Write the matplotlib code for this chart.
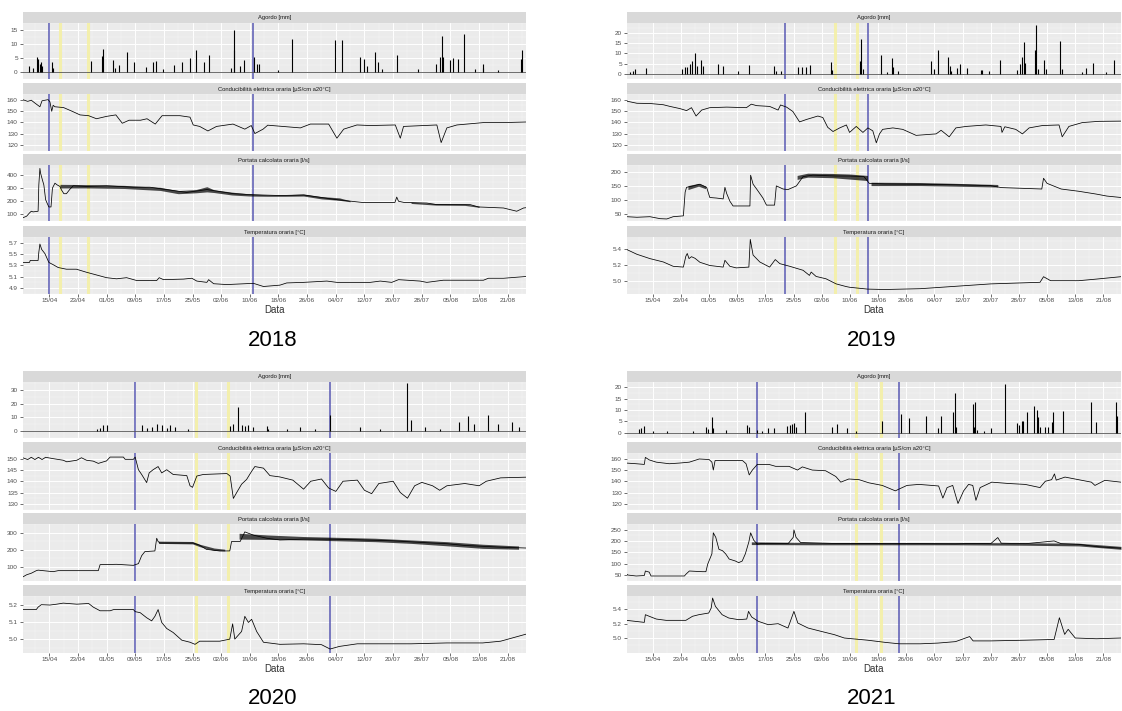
import numpy as np
import matplotlib
matplotlib.use('Agg')
import matplotlib.pyplot as plt

W, H = 1122, 711
plt.rcParams['font.family'] = ['Liberation Sans', 'DejaVu Sans']

# x axis: days counted from 1 April (0 = 01/04)
tick_days = [14, 22, 30, 38, 46, 54, 62, 70, 78, 86, 94, 102, 110, 118, 126, 134, 142]
tick_labels = ['15/04', '23/04', '01/05', '09/05', '17/05', '25/05', '02/06', '10/06', '18/06',
               '26/06', '04/07', '12/07', '20/07', '28/07', '05/08', '13/08', '21/08']
strip_labels = ['Agordo [mm]', 'Conducibilità elettrica oraria [µS/cm a20°C]',
                'Portata calcolata oraria [l/s]', 'Temperatura oraria [°C]']

# ---------------- 2018 ----------------
rain_2018 = [(8.3, 2.0), (9.5, 1.6), (10.6, 5.3), (11.0, 4.5), (11.3, 3.0), (11.6, 3.6), (11.9, 2.0),
             (14.7, 3.6), (15.1, 1.6), (25.8, 3.8), (28.6, 5.6), (29.1, 8.2), (31.9, 4.2), (32.4, 1.6),
             (33.5, 2.5), (35.6, 7.2), (37.8, 3.6), (41.0, 1.8), (43.1, 3.6), (43.8, 4.1), (45.9, 1.2),
             (48.8, 2.5), (51.1, 3.6), (53.4, 5.1), (55.1, 7.9), (57.3, 3.6), (58.5, 5.9), (64.8, 1.6),
             (65.5, 7.7), (65.7, 14.8), (67.3, 2.0), (68.5, 4.2), (71.2, 5.5), (71.9, 2.9), (72.6, 2.9),
             (78.0, 0.6), (81.7, 11.6), (93.8, 11.2), (95.8, 11.4), (100.8, 5.5), (101.9, 4.8),
             (102.7, 2.0), (105.0, 7.0), (105.9, 3.7), (107.0, 1.2), (111.0, 5.9), (116.9, 1.0),
             (121.9, 2.9), (123.1, 5.2), (123.7, 12.8), (123.9, 5.5), (125.9, 4.2), (126.8, 5.1),
             (128.0, 4.8), (129.8, 13.6), (132.9, 1.0), (135.0, 2.9), (135.2, 1.6), (139.4, 0.6),
             (145.6, 4.8), (145.9, 8.0)]
cond_2018 = [(6.6, 160), (8, 158.5), (9, 159.5), (10, 157), (11.4, 153.7), (12, 159), (13.7, 160),
             (14.2, 158), (14.7, 149.7), (15.1, 155), (15.6, 153.7), (18, 153), (20.4, 149.7),
             (22.6, 146.5), (25, 145.8), (27.2, 143.1), (30, 145.2), (32.6, 146.5), (34.4, 139.1),
             (36.3, 141.8), (39.5, 141.8), (41.3, 143.1), (43.6, 138.4), (45.5, 145.8), (50.5, 145.8),
             (53.3, 144.5), (54.2, 137.6), (56, 136.3), (58.3, 132.3), (60.7, 136.3), (65.3, 138.4),
             (68.6, 133.9), (70.4, 137.1), (71.4, 130), (73.7, 133.9), (75, 137.4), (84.1, 135),
             (86.9, 138.4), (92, 138.4), (94.3, 125.9), (96.2, 133.9), (99.9, 137.6), (103.6, 137.1),
             (110.6, 137.6), (112, 125.9), (112.9, 136.3), (122.2, 137.6), (123.4, 122), (125, 135),
             (127.8, 137.6), (135.2, 139.7), (140.8, 139.7), (147, 140.2)]
flow_2018 = [(6.6, 72), (7.7, 85), (8.5, 110), (9, 123), (9.5, 118), (10.9, 123), (11.1, 326),
             (11.4, 453), (11.6, 415), (12.1, 364), (12.5, 326), (13, 212), (13.4, 186), (13.9, 156),
             (14.5, 156), (14.9, 301), (15.6, 339), (16.2, 326), (17, 314), (17.4, 288), (18.1, 258),
             (18.8, 258), (19.8, 293), (20.7, 319), (24.4, 314), (30, 319), (37.5, 308), (42.1, 308),
             (45.9, 293), (52.4, 268), (58, 290), (65.5, 258), (71, 250), (78.4, 244), (85, 248),
             (94.3, 212), (101.3, 191), (110.5, 191), (111, 232), (111.5, 200), (113, 191),
             (119.4, 186), (122.2, 174), (131.5, 174), (133.8, 156), (140.8, 148), (144.5, 123),
             (146.4, 148), (147, 150)]
flow_band_2018 = [[(17, 302, 330), (25, 302, 328), (35, 298, 322), (45, 283, 307), (50, 258, 282),
                   (55, 265, 290), (58, 272, 312), (60, 267, 288), (65, 248, 270), (70, 240, 256),
                   (75, 238, 250), (80, 238, 250), (85, 240, 256), (90, 218, 236), (95, 207, 226),
                   (98, 196, 204)],
                  [(115, 183, 193), (122, 170, 182), (130, 168, 179), (134, 153, 163)]]
temp_2018 = [(6.6, 5.346), (8.5, 5.35), (8.7, 5.385), (10.9, 5.385), (11.1, 5.53), (11.4, 5.676),
             (11.9, 5.58), (12.8, 5.506), (13.9, 5.35), (15.1, 5.31), (16.5, 5.26), (18.8, 5.23),
             (21.6, 5.23), (24.4, 5.176), (27.2, 5.128), (30, 5.08), (32.8, 5.06), (35.6, 5.08),
             (38.4, 5.03), (44, 5.03), (44.7, 5.08), (45.9, 5.045), (51.5, 5.055), (53.8, 5.07),
             (55.2, 5.02), (58, 4.997), (58.5, 5.045), (59.9, 4.973), (63.6, 4.958), (71, 4.98),
             (73.8, 4.924), (78.4, 4.948), (80.3, 4.987), (85, 4.997), (91.5, 5.02), (94.3, 4.997),
             (103.6, 4.997), (106.4, 5.02), (109.6, 4.997), (111.5, 5.045), (117.5, 5.02),
             (119.4, 4.997), (124, 5.035), (135.2, 5.035), (136.6, 5.07), (140.8, 5.07), (147, 5.1)]
blue_2018 = [14.0, 70.8]
yellow_2018 = [17.0, 24.9]

# ---------------- 2019 ----------------
rain_2019 = [(7.4, 0.9), (8.5, 1.4), (8.9, 2.4), (12.1, 2.7), (22.2, 2.4), (23.2, 3.2), (23.6, 3.5),
             (24.6, 4.7), (25.2, 6.3), (26.0, 10.0), (26.5, 4.0), (27.7, 7.0), (28.3, 4.0), (32.6, 5.0),
             (34.0, 4.0), (38.3, 1.7), (41.3, 4.4), (48.4, 4.0), (49.1, 1.7), (50.5, 1.4), (55.2, 3.5),
             (56.4, 3.2), (57.6, 3.2), (58.6, 4.3), (64.7, 5.8), (65.0, 2.0), (73.0, 6.3), (73.2, 16.9),
             (73.7, 2.4), (78.9, 9.3), (80.5, 0.9), (82.0, 7.8), (82.3, 3.5), (83.6, 1.4), (93.0, 6.3),
             (94.0, 2.4), (94.9, 11.6), (98.0, 8.5), (98.3, 4.0), (98.8, 1.4), (100.3, 2.7),
             (101.3, 4.7), (103.4, 2.9), (107.2, 2.0), (107.6, 2.0), (109.6, 1.4), (112.6, 6.7),
             (117.6, 2.0), (118.3, 4.7), (118.8, 8.5), (119.4, 15.4), (119.7, 5.5), (122.6, 11.9),
             (122.9, 23.8), (123.5, 2.4), (125.1, 6.6), (125.6, 2.4), (129.6, 16.2), (130.2, 2.4),
             (135.8, 0.9), (137.0, 2.9), (139.1, 5.2), (142.6, 0.9), (145.0, 6.6)]
cond_2019 = [(6.6, 158.7), (9.5, 156.8), (13.2, 156.6), (17, 155.5), (18.9, 154), (21.7, 152.1),
             (23.6, 150.3), (25, 152.9), (26.3, 145.5), (27.9, 150.8), (30.2, 152.9), (35, 153.4),
             (40.6, 152.9), (42, 156), (43.5, 154.7), (47.2, 154), (49.6, 150.8), (50.3, 155.3),
             (52, 153.4), (53.8, 149.5), (55.7, 140.3), (57.6, 142.4), (60.9, 145.5), (62.3, 144.2),
             (63.7, 135.5), (65.2, 131.8), (67.1, 135), (69, 137.6), (69.9, 131), (71.8, 136.3),
             (73.7, 131), (75.1, 135), (76.5, 132.4), (77.5, 121.8), (78.4, 129.7), (79.3, 133.7),
             (82.2, 135), (85, 133.7), (88.8, 128.4), (94.5, 129.7), (95.9, 132.9), (98.2, 127.1),
             (100.1, 135), (103, 136.3), (108.6, 137.6), (112.9, 136.3), (113.2, 131), (114, 136),
             (117.1, 133.7), (119, 129.7), (120.9, 135), (124.7, 137.1), (129.4, 137.6),
             (130.3, 127.1), (132.2, 136.3), (136, 139.7), (140.7, 140.8), (147, 141)]
flow_2019 = [(6.6, 42), (9.5, 40), (13.2, 42), (16.1, 35), (18, 34), (19.8, 42), (22.7, 45),
             (23.2, 129), (23.6, 146), (25.5, 151), (27.4, 157), (29.3, 146), (30.2, 110), (32.1, 108),
             (34, 105), (34.5, 146), (35, 124), (35.9, 97), (36.8, 80), (41.6, 80), (41.8, 189),
             (42.5, 157), (43.5, 140), (45.3, 108), (46.3, 83), (48.6, 83), (49.1, 151), (51, 140),
             (52.4, 138), (54.8, 151), (56.7, 184), (59.5, 189), (66.1, 186), (69.9, 186), (74, 184),
             (75.5, 160), (80, 158), (90, 157), (100, 155), (110, 152), (113, 145), (120, 142),
             (124.5, 140), (125, 178), (126, 160), (130, 140), (135, 132), (140, 122), (143, 115),
             (147, 110)]
flow_band_2019 = [[(24, 138, 152), (27, 150, 160), (29, 141, 150)],
                  [(55, 174, 188), (58, 182, 196), (65, 180, 195), (70, 175, 193), (75, 170, 188)],
                  [(76, 152, 164), (90, 152, 163), (100, 150, 160), (112, 147, 156)]]
temp_2019 = [(6.6, 5.4), (9.5, 5.34), (13.2, 5.286), (17, 5.244), (19.8, 5.19), (22.7, 5.18),
             (23.4, 5.316), (23.8, 5.35), (24.3, 5.286), (25, 5.31), (26, 5.29), (27.4, 5.24),
             (30.2, 5.2), (34, 5.18), (34.5, 5.265), (35.9, 5.19), (37.7, 5.17), (41.3, 5.18),
             (41.7, 5.526), (42.5, 5.33), (44.4, 5.244), (47.2, 5.18), (48.8, 5.274), (50.1, 5.223),
             (52.9, 5.19), (56.7, 5.14), (58.5, 5.076), (59, 5.118), (60.4, 5.063), (63.2, 5.034),
             (66.1, 4.97), (68.9, 4.937), (69.9, 4.928), (75, 4.905), (80, 4.9), (90, 4.91),
             (100, 4.94), (110, 4.97), (124, 4.99), (125, 5.06), (127, 5.01), (135, 5.01),
             (140, 5.03), (147, 5.06)]
blue_2019 = [51.5, 75.1]
yellow_2019 = [65.8, 72.0]

# ---------------- 2020 ----------------
rain_2020 = [(27.2, 1.8), (28.2, 2.6), (29.1, 4.4), (30.0, 4.8), (39.8, 4.4), (41.2, 2.6), (42.6, 3.3),
             (44.0, 5.5), (45.4, 4.4), (46.8, 2.6), (47.7, 4.4), (49.1, 3.3), (52.8, 1.8), (64.5, 3.9),
             (65.4, 5.5), (66.8, 17.5), (67.7, 4.8), (68.7, 3.9), (69.6, 4.8), (71.0, 3.3), (74.7, 3.9),
             (75.1, 1.8), (80.4, 2.0), (84.0, 3.0), (88.2, 2.0), (92.4, 12.0), (100.8, 3.0),
             (106.3, 2.0), (113.9, 35.0), (115.0, 8.0), (119.0, 3.0), (123.0, 2.0), (128.4, 7.0),
             (130.9, 11.0), (132.6, 5.0), (136.5, 12.0), (139.3, 5.0), (143.2, 7.0), (145.1, 3.0)]
cond_2020 = [(6.6, 150.4), (8, 149.6), (9, 150.6), (10, 149.6), (11, 150.6), (12, 149.6), (13, 150.6),
             (15.1, 150), (17.9, 149.3), (18.9, 148.6), (21.7, 149.3), (23, 150.4), (24.4, 149.3),
             (26.3, 148.9), (27.7, 147.9), (30, 149), (31, 150.7), (34.7, 150.7), (35.2, 149.7),
             (37.5, 149.7), (38, 150.7), (38.9, 145.1), (39.8, 143), (41.2, 139.4), (41.9, 143.7),
             (43, 145.1), (44.4, 146.5), (45.4, 143.7), (46.8, 145.1), (48.6, 143), (52.4, 142.5),
             (53.3, 138), (54, 137.3), (55.2, 142.3), (57, 143), (63.6, 143.4), (64.5, 142.3),
             (65.4, 132.4), (66.4, 135.2), (67.7, 138.7), (69.1, 140.8), (70.5, 144.4), (71.4, 146.5),
             (73.8, 145.8), (75.6, 142.5), (78.4, 141.9), (82, 140.5), (85, 136.5), (87, 140),
             (90, 141), (92, 137), (94, 135.5), (96, 140), (100, 140.5), (102, 136), (104, 134.5),
             (106, 139), (110, 140), (112, 135), (114, 132.5), (116, 138), (118, 139.5), (121, 138),
             (123, 136), (125, 138), (130, 139), (134, 138), (136, 140), (140, 141.5), (147, 141.8)]
flow_2020 = [(6.6, 41), (7.7, 54), (9, 63), (10.4, 78), (10.9, 81), (12.3, 78), (15.1, 72), (16.5, 78),
             (27.7, 78), (28.2, 113), (32.8, 115), (37.5, 109), (38.9, 119), (39.8, 165), (40.7, 189),
             (43.5, 193), (44, 267), (44.4, 248), (44.9, 239), (54.2, 239), (56, 226), (57.9, 202),
             (61.6, 193), (64.4, 193), (64.9, 248), (67.3, 248), (68.6, 304), (71, 285), (74.7, 267),
             (78.4, 257), (85, 262), (92, 262), (100, 258), (110, 252), (120, 240), (125, 235),
             (130, 225), (140, 215), (147, 210)]
flow_band_2020 = [[(44.5, 237, 250), (54, 234, 248), (56, 218, 232), (60, 196, 210), (63, 193, 203)],
                  [(67, 262, 296), (75, 260, 286), (85, 257, 277), (95, 252, 272), (105, 247, 267),
                   (115, 237, 257), (125, 223, 247), (135, 208, 232), (145, 203, 222)]]
temp_2020 = [(6.6, 5.172), (10.4, 5.172), (10.9, 5.186), (11.8, 5.2), (14.2, 5.198), (16.1, 5.203),
             (17.9, 5.209), (21.7, 5.203), (25, 5.207), (26.3, 5.186), (28.2, 5.165), (31, 5.165),
             (32, 5.172), (37.5, 5.172), (38, 5.16), (39.4, 5.154), (41.2, 5.125), (42.6, 5.107),
             (43.5, 5.133), (44.4, 5.172), (45.4, 5.098), (46.8, 5.063), (48.6, 5.04), (51, 4.996),
             (53.3, 4.984), (54.7, 4.972), (56, 4.99), (61.6, 4.99), (64.4, 5.002), (65.2, 5.09),
             (65.8, 5.002), (67.7, 5.046), (68.6, 5.133), (69.6, 5.098), (70.5, 5.116), (71.9, 5.046),
             (73.8, 4.984), (78.4, 4.972), (85, 4.975), (90, 4.97), (92.4, 4.945), (95, 4.96),
             (100, 4.975), (115, 4.975), (125, 4.98), (135, 4.98), (140, 4.99), (147, 5.03)]
blue_2020 = [37.9, 92.4]
yellow_2020 = [55.0, 64.0]

# ---------------- 2021 ----------------
rain_2021 = [(10.2, 1.5), (10.6, 2.2), (11.6, 2.9), (14.0, 0.5), (18.1, 0.9), (25.3, 0.5), (29.1, 2.3),
             (29.7, 1.5), (30.8, 6.7), (31.2, 1.9), (34.8, 1.2), (40.9, 3.3), (41.4, 2.3), (43.7, 1.2),
             (45.0, 0.9), (46.6, 1.9), (48.5, 2.2), (52.2, 2.9), (53.0, 3.3), (53.6, 3.9), (54.1, 4.2),
             (54.7, 2.3), (57.3, 9.1), (65.0, 2.3), (66.4, 3.9), (69.2, 1.9), (71.8, 0.9), (79.0, 5.0),
             (84.6, 8.0), (86.7, 6.4), (91.7, 7.3), (95.0, 1.9), (96.0, 7.3), (99.2, 9.1), (99.9, 17.6),
             (100.2, 2.6), (104.9, 12.8), (105.2, 2.6), (105.4, 13.5), (106.0, 1.2), (108.0, 0.5),
             (110.1, 1.9), (114.1, 21.6), (117.4, 4.2), (118.1, 3.3), (118.8, 5.0), (119.3, 5.0),
             (120.2, 9.1), (122.3, 11.7), (123.1, 10.1), (123.5, 6.7), (124.0, 2.6), (125.4, 2.3),
             (126.4, 2.6), (127.3, 4.6), (127.8, 9.1), (130.4, 9.7), (138.5, 13.5), (139.8, 4.6),
             (145.7, 13.5), (146.0, 7.3)]
cond_2021 = [(6.5, 156.1), (9.3, 155.5), (11.6, 154.9), (11.9, 161.1), (13, 158.9), (15, 156.9),
             (18.7, 155.5), (21.6, 156.1), (24.4, 156.9), (27.2, 159.7), (30, 159.2), (30.8, 156.9),
             (31.2, 149.9), (31.7, 158.3), (34.8, 158.3), (39.5, 158.3), (40.5, 155.5), (41.4, 145.6),
             (42.3, 149.9), (43.7, 154.9), (47, 154.9), (48.9, 153.2), (52.7, 153.2), (55.1, 149.9),
             (56.5, 152.7), (59.3, 149.9), (63.1, 149.3), (66, 144.2), (67.4, 139.2), (69.7, 142),
             (72.6, 141.4), (75.4, 138.6), (79.2, 136.3), (82.9, 131.5), (83.9, 133), (86.2, 136.3),
             (89.6, 137.2), (93.3, 136.3), (95.2, 135.8), (96.4, 125.1), (97.6, 134.4), (99.2, 136.3),
             (100.7, 120.3), (102.3, 131.5), (103.7, 137.2), (104.9, 136.3), (105.8, 123.1),
             (107, 134.4), (110.3, 139.2), (115.1, 138), (119.8, 137.2), (124, 134.4), (125.5, 140),
             (127.3, 141.4), (128.1, 146.5), (128.6, 141), (131.1, 143.7), (134.9, 141.4),
             (138.6, 139.2), (139.6, 136.3), (142.4, 140.8), (147, 139.2)]
flow_2021 = [(6.5, 54), (7, 49), (9.3, 45), (11.6, 47), (11.9, 67), (13, 62), (13.5, 45), (18.7, 45),
             (23, 45), (23.5, 54), (24.4, 67), (28.1, 64), (29.1, 64), (29.6, 97), (30.8, 143),
             (31.2, 236), (31.9, 216), (32.8, 163), (33.8, 157), (34.7, 143), (35.7, 120), (37.5, 111),
             (38.4, 104), (39.4, 111), (40.3, 143), (41.3, 196), (41.8, 236), (42.7, 203), (43.7, 186),
             (45, 189), (52.5, 189), (53.9, 216), (54.1, 249), (54.7, 216), (56, 193), (65.4, 189),
             (80, 188), (90, 188), (100, 187), (105, 189), (110, 188), (112, 215), (113, 190),
             (120, 188), (128, 200), (130, 188), (135, 185), (140, 175), (147, 168)]
flow_band_2021 = [[(42, 184, 196), (60, 183, 193), (80, 183, 193), (100, 183, 193), (120, 181, 192),
                   (135, 178, 190), (147, 163, 176)]]
temp_2021 = [(6.5, 5.244), (11.6, 5.216), (11.9, 5.322), (13, 5.3), (15, 5.262), (17.8, 5.244),
             (23.4, 5.244), (25.3, 5.3), (27.1, 5.322), (29.9, 5.345), (30.6, 5.414), (31, 5.552),
             (31.8, 5.437), (33.7, 5.322), (35.6, 5.276), (38.4, 5.253), (40.7, 5.262), (41.2, 5.368),
             (42.1, 5.29), (44, 5.23), (46.8, 5.184), (49.6, 5.198), (52.4, 5.138), (54.1, 5.368),
             (55.2, 5.207), (58.1, 5.138), (61.8, 5.092), (65.6, 5.046), (68.4, 5.0), (75, 4.97),
             (80, 4.94), (84, 4.92), (90, 4.92), (95, 4.93), (100, 4.95), (104, 5.02), (105, 4.96),
             (110, 4.96), (120, 4.97), (128, 4.98), (129.5, 5.28), (131, 5.05), (132, 5.12),
             (134, 5.0), (140, 4.99), (147, 5.0)]
blue_2021 = [43.5, 83.9]
yellow_2021 = [71.6, 78.9]

# y scales per facet: limits and breaks
ylims = {
    2018: [(-0.6, 15.5), (118.7, 163.7), (44, 479), (4.89, 5.72)],
    2019: [(-0.9, 24.9), (116, 160.8), (25, 211), (4.85, 5.556)],
    2020: [(-0.9, 35.9), (128.2, 152.2), (20.6, 337), (4.925, 5.225)],
    2021: [(-0.7, 22.2), (116, 164.2), (34, 254), (4.8, 5.58)],
}
yticks = {
    2018: [[0, 5, 10, 15], [120, 130, 140, 150, 160], [100, 200, 300, 400], [4.9, 5.1, 5.3, 5.5, 5.7]],
    2019: [[0, 5, 10, 15, 20], [120, 130, 140, 150, 160], [50, 100, 150, 200], [5.0, 5.2, 5.4]],
    2020: [[0, 10, 20, 30], [130, 135, 140, 145, 150], [100, 200, 300], [5.0, 5.1, 5.2]],
    2021: [[0, 5, 10, 15, 20], [120, 130, 140, 150, 160], [50, 100, 150, 200, 250], [5.0, 5.2, 5.4]],
}

XMIN, XMAX = 6.6, 147.0
panel_left = {0: 22.7, 1: 626.7}
panel_right = {0: 525.7, 1: 1121.0}
facet_top = [22.7, 94.0, 165.0, 237.0]
facet_bot = [79.2, 150.5, 221.5, 293.5]
strip_h = 10.7
row_shift = 359.0
LW = 0.55


def add_px_axes(fig, l, t, r, b):
    return fig.add_axes([l / W, 1 - b / H, (r - l) / W, (b - t) / H])


def style_axes(ax, ylim, ticks, show_x):
    ax.set_facecolor('#ebebeb')
    for s in ax.spines.values():
        s.set_visible(False)
    ax.set_xlim(XMIN, XMAX)
    ax.set_ylim(*ylim)
    ax.set_xticks(tick_days)
    ax.set_xticks([d + 4 for d in tick_days] + [tick_days[0] - 4], minor=True)
    ax.set_yticks(ticks)
    step = ticks[1] - ticks[0]
    ax.set_yticks([v + step / 2 for v in ticks] + [ticks[0] - step / 2], minor=True)
    if any(isinstance(v, float) for v in ticks):
        ax.set_yticklabels(['%.1f' % v for v in ticks])
    else:
        ax.set_yticklabels([str(v) for v in ticks])
    if show_x:
        ax.set_xticklabels(tick_labels)
    else:
        ax.set_xticklabels([])
    ax.grid(which='major', color='white', lw=0.7)
    ax.grid(which='minor', color='#f7f7f7', lw=0.35)
    ax.set_axisbelow(True)
    ax.tick_params(which='major', length=2.0, width=0.5, color='#333333',
                   labelsize=4.6, labelcolor='#4d4d4d', pad=1.5)
    ax.tick_params(which='minor', length=0)
    if not show_x:
        ax.tick_params(axis='x', length=0)


def draw_year(fig, year, col, row, rain, cond, flow, bands, temp, blue, yellow):
    l, r = panel_left[col], panel_right[col]
    dy = row * row_shift
    axes = []
    for i in range(4):
        t, b = facet_top[i] + dy, facet_bot[i] + dy
        ax = add_px_axes(fig, l, t, r, b)
        style_axes(ax, ylims[year][i], yticks[year][i], i == 3)
        sax = add_px_axes(fig, l, t - strip_h, r, t)
        sax.set_facecolor('#d9d9d9')
        sax.set_xticks([])
        sax.set_yticks([])
        for s in sax.spines.values():
            s.set_visible(False)
        sax.text(0.5, 0.45, strip_labels[i], ha='center', va='center', fontsize=4.2,
                 color='#1a1a1a', transform=sax.transAxes)
        for x in yellow:
            ax.axvline(x, color='#f4f0a6', lw=2.2, alpha=0.9, zorder=1)
        for x in blue:
            ax.axvline(x, color='#5a5ab4', lw=1.1, zorder=1)
        axes.append(ax)

    rd = [p[0] for p in rain]
    rv = [p[1] for p in rain]
    axes[0].vlines(rd, 0, rv, color='black', lw=0.8, zorder=3)
    axes[0].axhline(0, color='#555555', lw=0.6, zorder=2)

    axes[1].plot([p[0] for p in cond], [p[1] for p in cond], color='black', lw=LW, zorder=3)

    for seg in bands:
        axes[2].fill_between([p[0] for p in seg], [p[1] for p in seg], [p[2] for p in seg],
                             color='black', lw=0, alpha=0.7, zorder=3)
    axes[2].plot([p[0] for p in flow], [p[1] for p in flow], color='black', lw=LW, zorder=3)

    axes[3].plot([p[0] for p in temp], [p[1] for p in temp], color='black', lw=LW, zorder=3)

    xc = (l + r) / 2
    fig.text(xc / W, 1 - (310 + dy) / H, 'Data', ha='center', va='center', fontsize=7,
             color='#333333')
    fig.text((xc - 2) / W, 1 - (340 + dy) / H, str(year), ha='center', va='center', fontsize=16)


fig = plt.figure(figsize=(W / 100, H / 100), dpi=100)
fig.patch.set_facecolor('white')
draw_year(fig, 2018, 0, 0, rain_2018, cond_2018, flow_2018, flow_band_2018, temp_2018,
          blue_2018, yellow_2018)
draw_year(fig, 2019, 1, 0, rain_2019, cond_2019, flow_2019, flow_band_2019, temp_2019,
          blue_2019, yellow_2019)
draw_year(fig, 2020, 0, 1, rain_2020, cond_2020, flow_2020, flow_band_2020, temp_2020,
          blue_2020, yellow_2020)
draw_year(fig, 2021, 1, 1, rain_2021, cond_2021, flow_2021, flow_band_2021, temp_2021,
          blue_2021, yellow_2021)
fig.savefig('out.png', dpi=100)
